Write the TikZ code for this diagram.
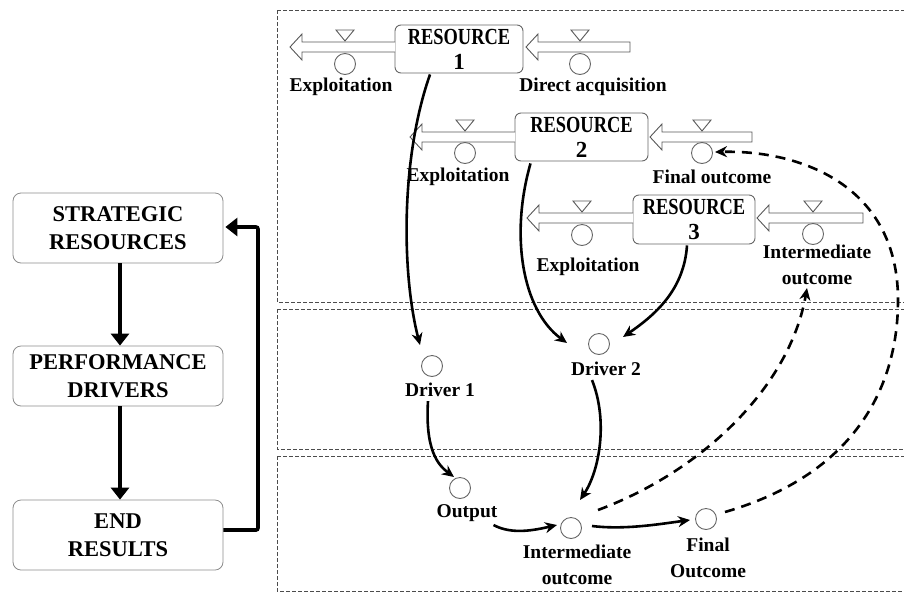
\documentclass[tikz,border=0pt]{standalone}
\usepackage{fontspec}
\setmainfont{Liberation Serif}
\usetikzlibrary{arrows.meta,calc}

% outflow pipe: arrow tip at #1, open end at #2, centre line at #3
\newcommand{\outpipe}[3]{%
  \draw[pipe] (#2,#3-5) -- (#1+12,#3-5) -- (#1+12,#3-13) -- (#1,#3)
    -- (#1+12,#3+13) -- (#1+12,#3+5) -- (#2,#3+5);}
% inflow pipe: arrow tip at #1, closed end at #2, centre line at #3
\newcommand{\inpipe}[3]{%
  \draw[pipe] (#2,#3-5) -- (#1+12,#3-5) -- (#1+12,#3-13) -- (#1,#3)
    -- (#1+12,#3+13) -- (#1+12,#3+5) -- (#2,#3+5) -- cycle;}
% valve on a pipe at x = #1, pipe centre #2
\newcommand{\valvemark}[2]{%
  \draw[valvestyle] (#1-9,#2-17) -- (#1+9,#2-17) -- (#1,#2-6) -- cycle;}
\newcommand{\narrow}[1]{\scalebox{0.8}[1]{#1}}

\tikzset{
  lbl/.style={font=\fontsize{19.5}{26}\selectfont\bfseries, align=center, inner sep=0pt},
  stockbox/.style={draw=black!60, rounded corners=6pt, line width=0.9pt,
    inner sep=0pt, font=\fontsize{23}{25}\selectfont\bfseries, align=center},
  levelbox/.style={draw=black!45, rounded corners=8pt, line width=0.8pt,
    minimum width=210pt, inner sep=0pt, font=\fontsize{22.5}{28}\selectfont\bfseries, align=center},
  aux/.style={circle, draw=black!60, line width=0.9pt, minimum size=21pt, inner sep=0pt},
  pipe/.style={draw=black!65, line width=0.9pt, fill=white},
  valvestyle/.style={draw=black!65, line width=0.9pt},
  link/.style={line width=2.6pt, -{Stealth[length=12pt,width=11pt]}},
  feedback/.style={line width=2.6pt, dash pattern=on 10pt off 7pt, -{Stealth[length=12pt,width=11pt]}},
  levelarrow/.style={line width=3.6pt, -{Triangle[length=12pt,width=18pt]}},
  frame/.style={draw=black!70, line width=1pt, dash pattern=on 4pt off 2pt},
}

\begin{document}
\begin{tikzpicture}[x=1pt,y=-1pt]
\useasboundingbox (0,0) rectangle (904,592);
\fill[white] (0,0) rectangle (904,592);

% ---- three dashed layers ----
\draw[frame] (277,10) -- (912,10) (277,10) -- (277,302) -- (912,302);
\draw[frame] (277,309) -- (912,309) (277,309) -- (277,449) -- (912,449);
\draw[frame] (277,456) -- (912,456) (277,456) -- (277,591) -- (912,591);

% ---- left column ----
\node[levelbox, minimum height=70pt] (sr) at (118,228) {STRATEGIC\\RESOURCES};
\node[levelbox, minimum height=60pt] (pd) at (118,376) {PERFORMANCE\\DRIVERS};
\node[levelbox, minimum height=70pt] (er) at (118,535) {END\\RESULTS};
\draw[levelarrow] (sr.south -| 120,0) -- (pd.north -| 120,0);
\draw[levelarrow] (pd.south -| 120,0) -- (er.north -| 120,0);
\coordinate (fbA) at (258,530);
\coordinate (fbB) at (258,227);
\draw[levelarrow, rounded corners=2pt] (er.east |- fbA) -- (fbA) -- (fbB) -- ($(sr.east |- fbB)+(2,0)$);

% ---- stocks ----
\node[stockbox, minimum width=128pt, minimum height=48pt] (r1) at (459,49) {\narrow{RESOURCE}\\1};
\node[stockbox, minimum width=133pt, minimum height=48pt] (r2) at (581.5,137) {\narrow{RESOURCE}\\2};
\node[stockbox, minimum width=122pt, minimum height=49pt] (r3) at (694,219.5) {\narrow{RESOURCE}\\3};

% flows of resource 1
\outpipe{290}{395}{47}
\inpipe{526}{630}{47}
\valvemark{345}{47}
\valvemark{580}{47}
\node[aux] (ex1) at (345,64) {};
\node[aux] (da1) at (580,64) {};
\node[lbl] (ex1l) at (341,87) {Exploitation};
\node[lbl] (da1l) at (593,87) {Direct acquisition};

% flows of resource 2
\outpipe{410}{515}{137}
\inpipe{650}{752}{137}
\valvemark{465}{137}
\valvemark{702}{137}
\node[aux] (ex2) at (465,153) {};
\node[aux] (fo2) at (702,153) {};
\node[lbl] (ex2l) at (458,177) {Exploitation};
\node[lbl] (fo2l) at (712,177) {Final outcome};

% flows of resource 3
\outpipe{527}{633}{218}
\inpipe{757}{863}{218}
\valvemark{582}{218}
\valvemark{813}{218}
\node[aux] (ex3) at (582,235) {};
\node[aux] (io3) at (813,234) {};
\node[lbl] (ex3l) at (588,267) {Exploitation};
\node[lbl] (io3l) at (817,265) {Intermediate\\outcome};

% ---- drivers ----
\node[aux] (d1) at (432,366) {};
\node[lbl] (d1l) at (440,390) {Driver 1};
\node[aux] (d2) at (599,344) {};
\node[lbl] (d2l) at (606,369) {Driver 2};

% ---- results ----
\node[aux] (out) at (460,488) {};
\node[lbl] (outl) at (467,513) {Output};
\node[aux] (im) at (571,528) {};
\node[lbl] (iml) at (577,565) {Intermediate\\outcome};
\node[aux] (fo) at (706,519) {};
\node[lbl] (fol) at (708,558) {Final\\Outcome};

% ---- causal links ----
\draw[link] ($(r1.south)+(-29,1)$) .. controls (400,160) and (402,275) .. ($(d1)+(-12,-21)$);
\draw[link] ($(r2.south)+(-51,2)$) .. controls (510,235) and (522,310) .. ($(d2)+(-32,-1)$);
\draw[link] ($(r3.south)+(-7,1)$) .. controls (684,290) and (655,315) .. ($(d2)+(24,-7)$);
\draw[link] ($(d1l.south)+(-12,4)$) .. controls (425,450) and (438,465) .. ($(out)+(-6,-11)$);
\draw[link] ($(d2l.south)+(-14,4)$) .. controls (608,420) and (600,470) .. ($(im)+(9,-28)$);
\draw[link] ($(outl.east)+(-4,12)$) .. controls (512,535) and (535,530) .. ($(im)+(-14,-3)$);
\draw[link] ($(im)+(21,-2)$) .. controls (625,530) and (660,524) .. ($(fo)+(-16,1)$);

% ---- feedback loops ----
\draw[feedback] ($(im)+(27,-18)$) .. controls (705,470) and (790,385) .. ($(io3l.south)+(-10,3)$);
\draw[feedback] ($(fo)+(19,-7)$) .. controls (852,475) and (898,390) .. (898,300)
  .. controls (898,185) and (800,150) .. ($(fo2)+(13,-1)$);
\end{tikzpicture}
\end{document}
